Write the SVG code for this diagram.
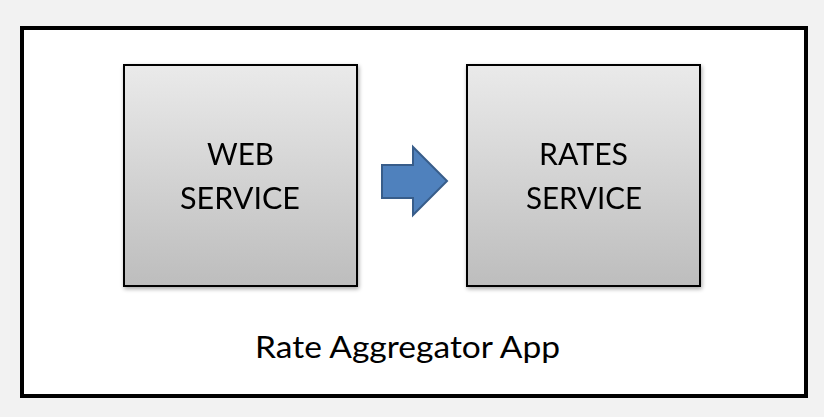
<svg xmlns="http://www.w3.org/2000/svg" width="824" height="417" viewBox="0 0 824 417">
<defs>
<linearGradient id="boxGrad" x1="0" y1="0" x2="0" y2="1">
<stop offset="0" stop-color="#EAEAEA"/>
<stop offset="1" stop-color="#BDBDBD"/>
</linearGradient>
<filter id="shadow" x="-10%" y="-10%" width="120%" height="120%">
<feGaussianBlur in="SourceAlpha" stdDeviation="2"/>
<feOffset dx="1" dy="2" result="b"/>
<feComponentTransfer><feFuncA type="linear" slope="0.35"/></feComponentTransfer>
<feMerge><feMergeNode/><feMergeNode in="SourceGraphic"/></feMerge>
</filter>
</defs>
<style>
.box{fill:url(#boxGrad);stroke:#000;stroke-width:2}
.lbl{font-family:Lato,"Liberation Sans",Arial,sans-serif;font-size:31px;fill:#000;text-anchor:middle}
</style>
<rect x="0" y="0" width="824" height="417" fill="#F2F2F2"/>
<g id="app">
<rect x="22" y="28" width="784" height="368" fill="#FFFFFF" stroke="#000" stroke-width="4"/>
<text class="lbl" x="407.5" y="358" textLength="305" lengthAdjust="spacingAndGlyphs">Rate Aggregator App</text>
</g>
<g id="web-service" filter="url(#shadow)">
<rect class="box" x="124" y="65" width="233" height="221"/>
<text class="lbl" x="240.5" y="165" textLength="67" lengthAdjust="spacingAndGlyphs">WEB</text>
<text class="lbl" x="240" y="209" textLength="120" lengthAdjust="spacingAndGlyphs">SERVICE</text>
</g>
<g id="rates-service" filter="url(#shadow)">
<rect class="box" x="467" y="65" width="233" height="221"/>
<text class="lbl" x="583.5" y="165" textLength="89" lengthAdjust="spacingAndGlyphs">RATES</text>
<text class="lbl" x="584" y="209" textLength="116" lengthAdjust="spacingAndGlyphs">SERVICE</text>
</g>
<g id="connectors">
<polygon points="382,165 413,165 413,147 447,181 413,215 413,198 382,198" fill="#4F81BD" stroke="#385D8A" stroke-width="2" stroke-linejoin="miter"/>
</g>
</svg>
